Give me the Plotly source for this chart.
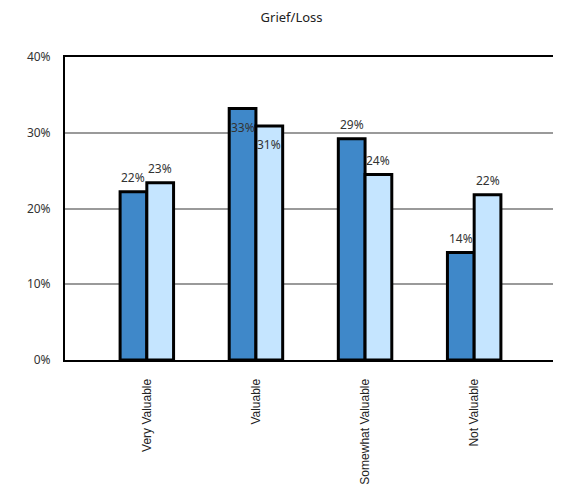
import plotly.graph_objects as go

categories = ["Very Valuable", "Valuable", "Somewhat Valuable", "Not Valuable"]
series_a = [22.2, 33.2, 29.2, 14.2]
series_b = [23.4, 30.9, 24.5, 21.8]
labels_a = ["22%", "33%", "29%", "14%"]
labels_b = ["23%", "31%", "24%", "22%"]
y_ticks = [0, 10, 20, 30, 40]
y_tick_labels = ["0%", "10%", "20%", "30%", "40%"]
title = "Grief/Loss"

dark = "#3F88C9"
light = "#C5E5FF"

fig = go.Figure()
fig.add_trace(go.Bar(x=categories, y=series_a, marker=dict(color=dark, line=dict(color="black", width=3)),
                     name="A", showlegend=False))
fig.add_trace(go.Bar(x=categories, y=series_b, marker=dict(color=light, line=dict(color="black", width=3)),
                     name="B", showlegend=False))

# value labels
annotations = []
for i, cat in enumerate(categories):
    for vals, labs, off in [(series_a, labels_a, -0.123), (series_b, labels_b, 0.123)]:
        inside = cat == "Valuable"
        annotations.append(dict(
            x=i + off, y=vals[i], xref="x", yref="y", text=labs[i], showarrow=False,
            yshift=-19 if inside else 14, font=dict(family="Noto Sans", size=12, color="#333"),
        ))

fig.update_layout(
    width=556, height=486,
    margin=dict(l=57, r=6, t=49, b=134),
    plot_bgcolor="white", paper_bgcolor="white",
    title=dict(text=title, x=0.51, xanchor="center", y=1 - 9 / 486, yanchor="middle",
               font=dict(family="Noto Sans", size=13, color="#222")),
    barmode="group", bargap=0.51, bargroupgap=0,
    annotations=annotations,
    xaxis=dict(
        type="category", range=[-0.75, 3.75], tickangle=-90,
        tickfont=dict(family="Liberation Sans", size=12, color="#222"),
        showline=True, linecolor="black", linewidth=2, mirror=True,
        ticks="outside", ticklen=12, tickcolor="rgba(0,0,0,0)", showgrid=False,
    ),
    yaxis=dict(
        range=[0, 40], tickvals=y_ticks, ticktext=y_tick_labels,
        tickfont=dict(family="Noto Sans", size=12, color="#333"),
        showline=True, linecolor="black", linewidth=2, mirror=True,
        showgrid=True, gridcolor="#9A9A9A", gridwidth=2,
        ticks="outside", ticklen=10, tickcolor="rgba(0,0,0,0)", zeroline=False,
    ),
)

fig.write_html("out.html")
